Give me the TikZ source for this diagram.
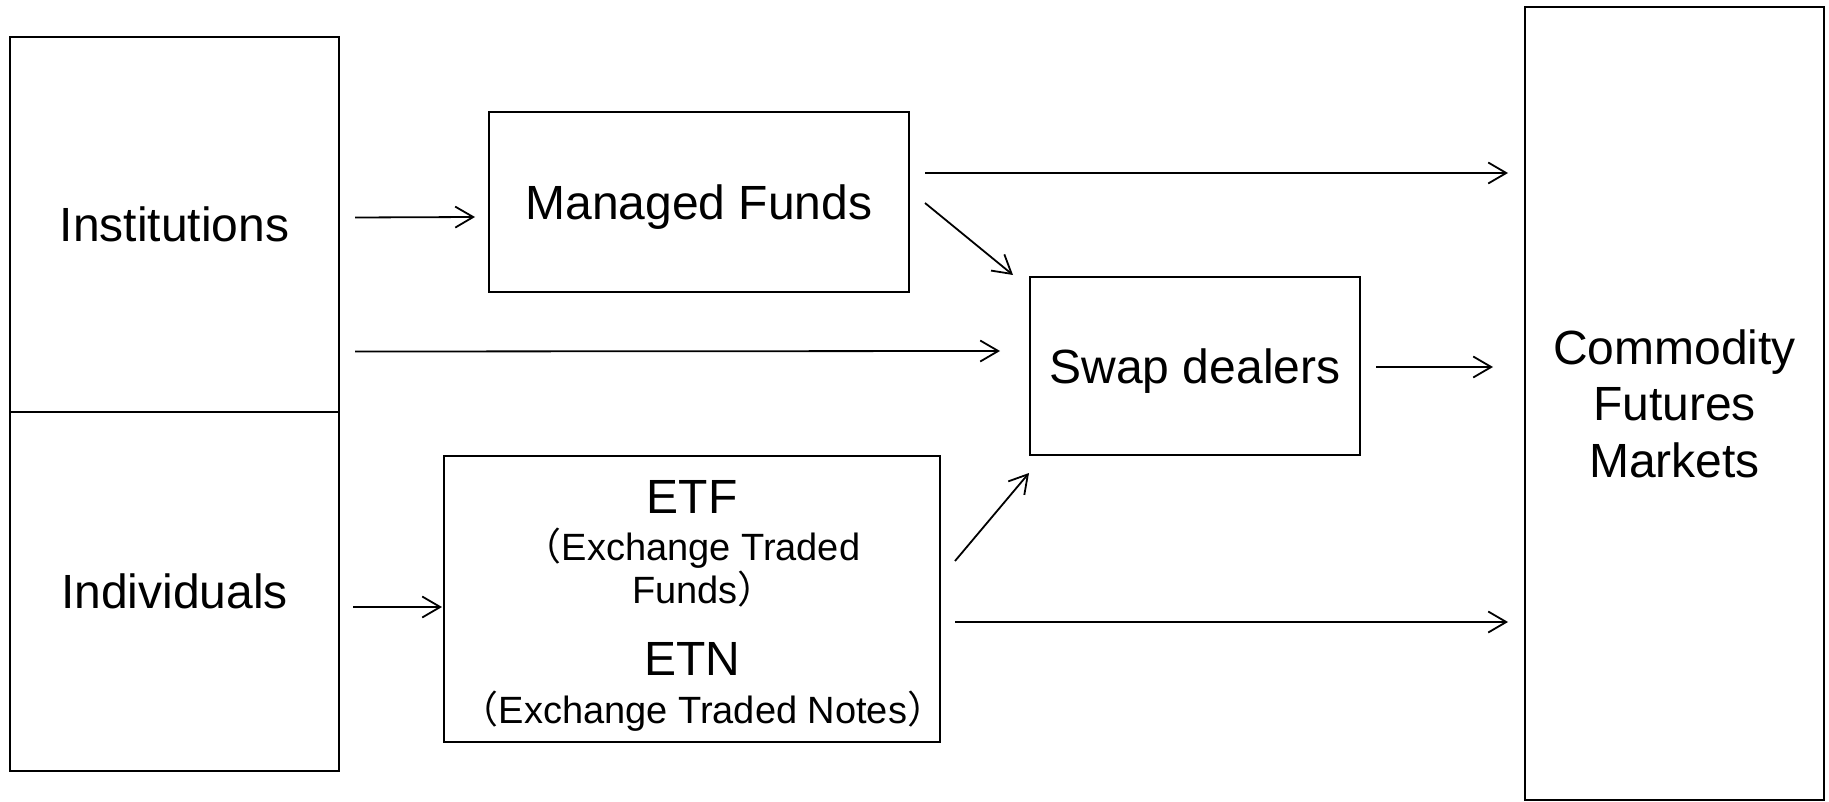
\documentclass[tikz,border=0pt]{standalone}
\usepackage{fontspec}
\setmainfont{Liberation Sans}
\newfontfamily\cjk{Noto Sans CJK JP}
\usetikzlibrary{arrows.meta,calc}

\begin{document}
\begin{tikzpicture}[
  x=0.5pt,y=-0.5pt,
  big/.style={font=\fontsize{24}{28.3}\selectfont},
  small/.style={font=\fontsize{19}{21.5}\selectfont},
  box/.style={draw,line width=1.4pt,inner sep=0pt,outer sep=0pt,align=center,text depth=0pt,big},
  flow/.style={-{Straight Barb[length=9pt,width=10.5pt,line width=0.9pt]},line width=0.9pt}
]
\useasboundingbox[fill=white] (0,0) rectangle (1829,802);

% investors
\node[box,minimum width=164.5pt,minimum height=187.5pt] (inst) at (174.5,224.5) {Institutions};
\node[box,minimum width=164.5pt,minimum height=179.5pt] (indiv) at (174.5,591.5) {Individuals};

% vehicles
\node[box,minimum width=210pt,minimum height=90pt] (mf) at (699,202) {Managed Funds};
\node[box,minimum width=165pt,minimum height=89pt] (swap) at (1195,366) {Swap dealers};
\node[box,minimum width=248pt,minimum height=143pt] (etf) at (692,599) {};
\node[big,anchor=base] (etfT) at (692,513) {ETF};
\node[small,anchor=base] (etfN1) at (692,560) {{\cjk （}Exchange Traded};
\node[small,anchor=base] (etfN2) at (704,603) {Funds{\cjk ）}};
\node[big,anchor=base] (etnT) at (692,675) {ETN};
\node[small,anchor=base] (etnN) at (703,723) {{\cjk （}Exchange Traded Notes{\cjk ）}};

% market
\node[box,minimum width=149.5pt,minimum height=396.5pt] (cfm) at (1674.5,403.5) {Commodity\\Futures\\Markets};

% flows
\draw[flow] ($(inst.east)+(16,-7)$) -- ($(mf.west)+(-14,15)$);
\draw[flow] ($(inst.east)+(16,127)$) -- ($(swap.west)+(-30,-15)$);
\draw[flow] ($(mf.east)+(16,-29)$) -- ($(cfm.west)+(-17,-230.5)$);
\draw[flow] ($(mf.east)+(16,1)$) -- ($(swap.north west)+(-17,-2)$);
\draw[flow] ($(swap.east)+(16,1)$) -- ($(cfm.west)+(-32,-36.5)$);
\draw[flow] ($(indiv.east)+(14,15.5)$) -- ($(etf.west)+(-2,8)$);
\draw[flow] ($(etf.east)+(15,-38)$) -- ($(swap.south west)+(-1,18)$);
\draw[flow] ($(etf.east)+(15,23)$) -- ($(cfm.west)+(-17,218.5)$);
\end{tikzpicture}
\end{document}
